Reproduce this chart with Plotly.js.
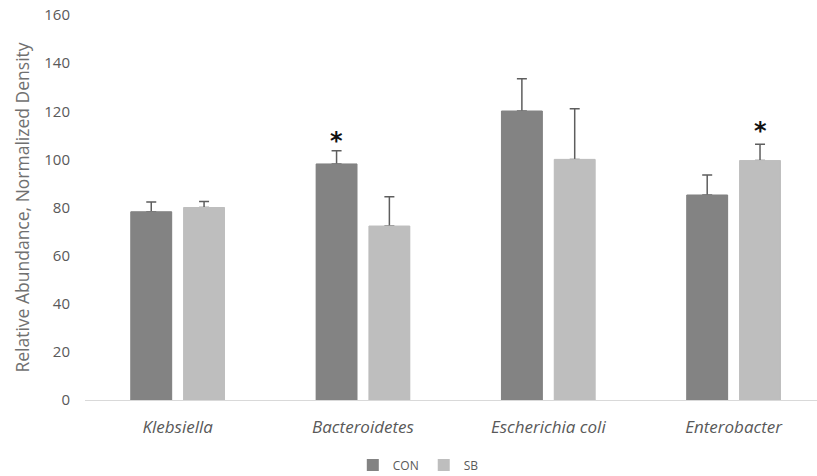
<!DOCTYPE html>
<html>
<head>
<meta charset="utf-8">
<script src="https://cdn.plot.ly/plotly-3.0.1.min.js"></script>
<style>html,body{margin:0;padding:0;background:#fff;}#chart{width:817px;height:476px;}</style>
</head>
<body>
<div id="chart"></div>
<script>
const categories = ["Klebsiella", "Bacteroidetes", "Escherichia coli", "Enterobacter"];
const conValues = [78.2, 98.1, 120.1, 85.2];
const conErrors = [4.1, 5.5, 13.4, 8.3];
const sbValues = [80.0, 72.3, 100.0, 99.5];
const sbErrors = [2.5, 12.2, 21.0, 6.8];
const conSig = [false, true, false, false];
const sbSig = [false, false, false, true];
const tickVals = [0, 20, 40, 60, 80, 100, 120, 140, 160];

const labels = categories.map(c => "<i>" + c + "</i>");
const zeros = categories.map(() => 0);
const conColor = "#838383", sbColor = "#bebebe";

const errStyle = {type: "data", symmetric: false, color: "#5e5e5e", thickness: 1.5, width: 5};

const traces = [
  {type: "bar", name: "CON", x: labels, y: conValues, offsetgroup: "con", marker: {color: conColor},
   error_y: Object.assign({array: conErrors, arrayminus: zeros}, errStyle)},
  {type: "bar", name: "SB", x: labels, y: sbValues, offsetgroup: "sb", marker: {color: sbColor},
   error_y: Object.assign({array: sbErrors, arrayminus: zeros}, errStyle)},
  // same bars drawn again on top, so that only the upper arm of each error bar shows
  {type: "bar", name: "CON", x: labels, y: conValues, offsetgroup: "con", showlegend: false, hoverinfo: "skip",
   marker: {color: conColor, line: {color: conColor, width: 1}}},
  {type: "bar", name: "SB", x: labels, y: sbValues, offsetgroup: "sb", showlegend: false, hoverinfo: "skip",
   marker: {color: sbColor, line: {color: sbColor, width: 1}}}
];

const starFont = {family: "DejaVu Sans", size: 24, color: "#111", weight: "bold"};
const annotations = [];
categories.forEach((c, i) => {
  if (conSig[i]) annotations.push({x: labels[i], y: conValues[i] + conErrors[i], xref: "x", yref: "y",
    text: "*", showarrow: false, xshift: -26.5, yanchor: "bottom", yshift: -6, font: starFont});
  if (sbSig[i]) annotations.push({x: labels[i], y: sbValues[i] + sbErrors[i], xref: "x", yref: "y",
    text: "*", showarrow: false, xshift: 26.5, yanchor: "bottom", yshift: -3, font: starFont});
});

const layout = {
  width: 817, height: 476,
  margin: {l: 85, r: 0, t: 15, b: 76},
  paper_bgcolor: "#fff", plot_bgcolor: "#fff",
  font: {family: "Open Sans", color: "#595959"},
  barmode: "group", bargap: 0.43, bargroupgap: 0.226,
  showlegend: true,
  legend: {orientation: "h", xref: "container", yref: "container", x: 0.512, y: 0.023,
    xanchor: "center", yanchor: "middle", font: {size: 12, color: "#595959"},
    itemwidth: 30, tracegroupgap: 0},
  xaxis: {type: "category", range: [-0.5, 3.45], showgrid: false, zeroline: false,
    showline: true, linecolor: "#d9d9d9", linewidth: 1, ticks: "",
    tickfont: {size: 17, color: "#595959"}, ticklabelstandoff: 12},
  yaxis: {range: [0, 160], tickvals: tickVals, showgrid: false, zeroline: false, showline: false,
    ticks: "", tickfont: {size: 15, color: "#595959"}, ticklabelstandoff: 14,
    title: {text: "Relative Abundance, Normalized Density", font: {size: 17.5, color: "#707070"}, standoff: 10}},
  annotations: annotations
};

Plotly.newPlot("chart", traces, layout, {displayModeBar: false, staticPlot: true});
</script>
</body>
</html>
